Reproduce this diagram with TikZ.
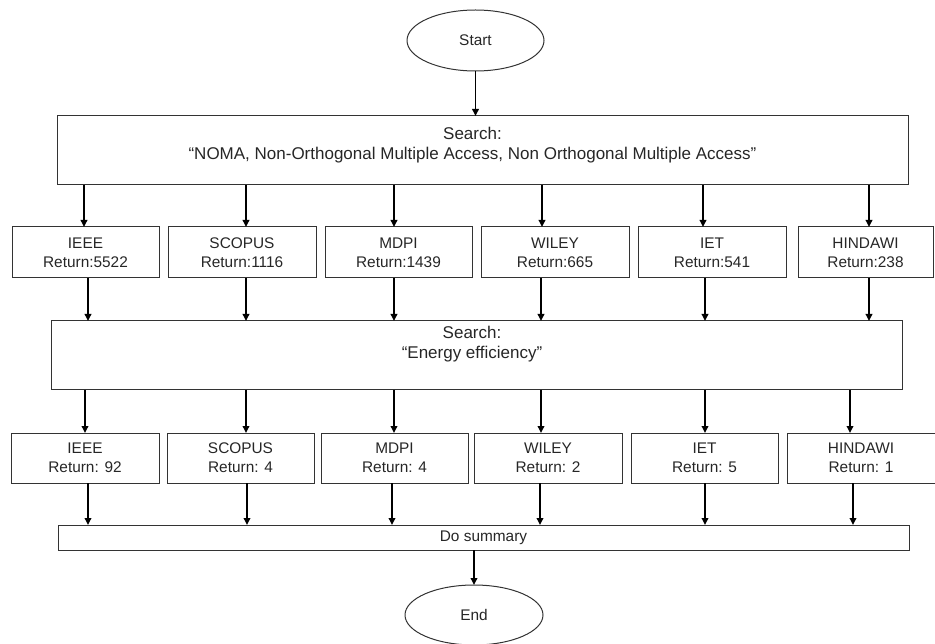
\documentclass[tikz,border=0pt]{standalone}
\usepackage{fontspec}
\setmainfont{Liberation Sans}
\usetikzlibrary{arrows.meta,shapes.geometric}
\begin{document}
\begin{tikzpicture}[x=1pt,y=-1pt,
  every node/.style={font=\fontsize{15.4}{19}\selectfont, text=black!85, inner sep=0pt, outer sep=0pt, align=center},
  bigtext/.style={font=\fontsize{17}{20}\selectfont},
  box/.style={draw=black!80, line width=1pt, rectangle},
  oval/.style={draw=black!80, line width=1pt, ellipse},
  arr/.style={draw=black, line width=1.8pt, -{Triangle[length=7pt,width=6.5pt]}},
  rowone/.style={box, minimum height=51pt},
  rowtwo/.style={box, minimum height=50pt}]
\useasboundingbox (0,0) rectangle (935,644);
% start / end
\node[oval, minimum width=137pt, minimum height=61pt] (start) at (475.5,40.5) {Start};
% first search
\node[box, minimum width=851pt, minimum height=69pt] (s1) at (482.5,150.5) {};
\node[bigtext] (s1t) at (472.5,145.5) {Search:\\“NOMA, Non-Orthogonal Multiple Access, Non Orthogonal Multiple Access”};
% row one
\node[rowone, minimum width=147pt] (r1a) at (85.5,252.5) {IEEE\\Return:5522};
\node[rowone, minimum width=148pt] (r1b) at (242,252.5) {SCOPUS\\Return:1116};
\node[rowone, minimum width=147pt] (r1c) at (398.5,252.5) {MDPI\\Return:1439};
\node[rowone, minimum width=148pt] (r1d) at (555,252.5) {WILEY\\Return:665};
\node[rowone, minimum width=148pt] (r1e) at (712,252.5) {IET\\Return:541};
\node[rowone, minimum width=135pt] (r1f) at (865.5,252.5) {HINDAWI\\Return:238};
% second search
\node[box, minimum width=851pt, minimum height=69pt] (s2) at (476.5,355.5) {};
\node[bigtext] (s2t) at (472,344.5) {Search:\\“Energy efficiency”};
% row two
\node[rowtwo, minimum width=148pt] (r2a) at (85,458) {IEEE\\Return: 92};
\node[rowtwo, minimum width=147pt] (r2b) at (240.5,458) {SCOPUS\\Return: 4};
\node[rowtwo, minimum width=147pt] (r2c) at (394.5,458) {MDPI\\Return: 4};
\node[rowtwo, minimum width=148pt] (r2d) at (548,458) {WILEY\\Return: 2};
\node[rowtwo, minimum width=147pt] (r2e) at (704.5,458) {IET\\Return: 5};
\node[rowtwo, minimum width=148pt] (r2f) at (861,458) {HINDAWI\\Return: 1};
% summary
\node[box, minimum width=851pt, minimum height=25pt] (sum) at (483.5,537.5) {Do summary};
\node[oval, minimum width=138pt, minimum height=60pt] (end) at (474,615) {End};
% connectors
\draw[arr] (start.south) -- (start.south |- s1.north);
\draw[arr] ([xshift=-1.5pt]r1a.north |- s1.south) -- ([xshift=-1.5pt]r1a.north);
\draw[arr] ([xshift=4pt]r1b.north |- s1.south) -- ([xshift=4pt]r1b.north);
\draw[arr] ([xshift=-4.5pt]r1c.north |- s1.south) -- ([xshift=-4.5pt]r1c.north);
\draw[arr] ([xshift=-13pt]r1d.north |- s1.south) -- ([xshift=-13pt]r1d.north);
\draw[arr] ([xshift=-9pt]r1e.north |- s1.south) -- ([xshift=-9pt]r1e.north);
\draw[arr] ([xshift=3.5pt]r1f.north |- s1.south) -- ([xshift=3.5pt]r1f.north);
\draw[arr] ([xshift=2.5pt]r1a.south) -- ([xshift=2.5pt]r1a.south |- s2.north);
\draw[arr] ([xshift=4pt]r1b.south) -- ([xshift=4pt]r1b.south |- s2.north);
\draw[arr] ([xshift=-4.5pt]r1c.south) -- ([xshift=-4.5pt]r1c.south |- s2.north);
\draw[arr] ([xshift=-14pt]r1d.south) -- ([xshift=-14pt]r1d.south |- s2.north);
\draw[arr] ([xshift=-7pt]r1e.south) -- ([xshift=-7pt]r1e.south |- s2.north);
\draw[arr] ([xshift=3.5pt]r1f.south) -- ([xshift=3.5pt]r1f.south |- s2.north);
\draw[arr] (r2a.north |- s2.south) -- (r2a.north);
\draw[arr] ([xshift=5.5pt]r2b.north |- s2.south) -- ([xshift=5.5pt]r2b.north);
\draw[arr] ([xshift=-0.5pt]r2c.north |- s2.south) -- ([xshift=-0.5pt]r2c.north);
\draw[arr] ([xshift=-7pt]r2d.north |- s2.south) -- ([xshift=-7pt]r2d.north);
\draw[arr] ([xshift=0.5pt]r2e.north |- s2.south) -- ([xshift=0.5pt]r2e.north);
\draw[arr] ([xshift=-11pt]r2f.north |- s2.south) -- ([xshift=-11pt]r2f.north);
\draw[arr] ([xshift=3pt]r2a.south) -- ([xshift=3pt]r2a.south |- sum.north);
\draw[arr] ([xshift=6.5pt]r2b.south) -- ([xshift=6.5pt]r2b.south |- sum.north);
\draw[arr] ([xshift=-2.5pt]r2c.south) -- ([xshift=-2.5pt]r2c.south |- sum.north);
\draw[arr] ([xshift=-8pt]r2d.south) -- ([xshift=-8pt]r2d.south |- sum.north);
\draw[arr] ([xshift=0.5pt]r2e.south) -- ([xshift=0.5pt]r2e.south |- sum.north);
\draw[arr] ([xshift=-8pt]r2f.south) -- ([xshift=-8pt]r2f.south |- sum.north);
\draw[arr] (end.north |- sum.south) -- (end.north);
\end{tikzpicture}
\end{document}
